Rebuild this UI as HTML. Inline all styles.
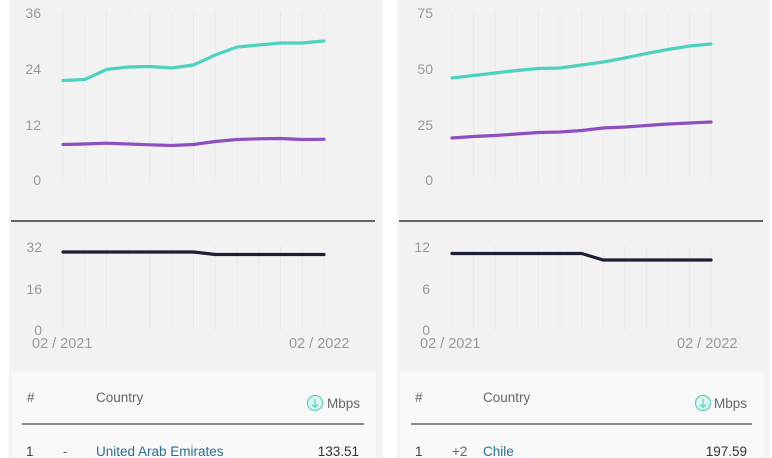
<!DOCTYPE html>
<html><head><meta charset="utf-8"><style>
html,body{margin:0;padding:0;background:#fff;width:772px;height:458px;overflow:hidden;font-family:"Liberation Sans",sans-serif}
svg{position:absolute;left:0;top:0}
</style></head><body>
<svg width="772" height="458" viewBox="0 0 772 458" xmlns="http://www.w3.org/2000/svg" font-family="Liberation Sans, sans-serif">
<rect x="9" y="0" width="374" height="458" fill="#f2f2f2"/>
<rect x="397" y="0" width="372" height="458" fill="#f2f2f2"/>
<rect x="12" y="372" width="364" height="86" fill="#f8f8f8"/>
<rect x="400" y="372" width="364" height="86" fill="#f8f8f8"/>
<line x1="11" y1="221" x2="375" y2="221" stroke="#111" stroke-width="1.3"/>
<line x1="399" y1="221" x2="763" y2="221" stroke="#111" stroke-width="1.3"/>
<g stroke="#e9e9e9" stroke-width="1">
<path d="M63 12V182M84.75 12V182M106.5 12V182M128.25 12V182M150 12V182M171.75 12V182M193.5 12V182M215.25 12V182M237 12V182M258.75 12V182M280.5 12V182M302.25 12V182M324 12V182"/>
<path d="M63 246V330M84.75 246V330M106.5 246V330M128.25 246V330M150 246V330M171.75 246V330M193.5 246V330M215.25 246V330M237 246V330M258.75 246V330M280.5 246V330M302.25 246V330M324 246V330"/>
<path d="M452 12V182M473.6 12V182M495.2 12V182M516.8 12V182M538.4 12V182M560 12V182M581.6 12V182M603.2 12V182M624.8 12V182M646.4 12V182M668 12V182M689.6 12V182M711 12V182"/>
<path d="M452 246V330M473.6 246V330M495.2 246V330M516.8 246V330M538.4 246V330M560 246V330M581.6 246V330M603.2 246V330M624.8 246V330M646.4 246V330M668 246V330M689.6 246V330M711 246V330"/>
</g>
<g fill="none" stroke-width="3.2" stroke-linejoin="round" stroke-linecap="round">
<polyline stroke="#4fd1c0" points="63,80.5 84.75,79.5 106.5,69.5 128.25,67 150,66.5 171.75,68 193.5,65 215.25,55 237,47 258.75,45 280.5,43 302.25,43 324,41"/>
<polyline stroke="#8e4fc0" points="63,144.5 84.75,144 106.5,143.2 128.25,144 150,144.8 171.75,145.5 193.5,144.5 215.25,141.5 237,139.5 258.75,138.8 280.5,138.5 302.25,139.5 324,139.3"/>
<polyline stroke="#1c1f33" points="63,252 193.5,252 215.25,254.5 324,254.5"/>
<polyline stroke="#4fd1c0" points="452,78 473.6,75.5 495.2,73 516.8,70.5 538.4,68.5 560,68 581.6,65 603.2,62 624.8,58 646.4,53.5 668,49.5 689.6,46 711,44"/>
<polyline stroke="#8e4fc0" points="452,138 473.6,136.5 495.2,135.5 516.8,134 538.4,132.5 560,132 581.6,130.5 603.2,128 624.8,127 646.4,125.5 668,124 689.6,123 711,122"/>
<polyline stroke="#1c1f33" points="452,253.5 581.6,253.5 603.2,260 711,260"/>
</g>
<g fill="#9a9a9a" font-size="14" text-anchor="end">
<text x="41" y="18">36</text><text x="41" y="74">24</text><text x="41" y="130">12</text><text x="41" y="185">0</text>
<text x="42" y="252">32</text><text x="42" y="294">16</text><text x="42" y="335">0</text>
<text x="433" y="18">75</text><text x="433" y="74">50</text><text x="433" y="130">25</text><text x="433" y="185">0</text>
<text x="430" y="252">12</text><text x="430" y="294">6</text><text x="430" y="335">0</text>
</g>
<g fill="#9a9a9a" font-size="14.5">
<text x="32" y="348">02 / 2021</text><text x="289" y="348">02 / 2022</text>
<text x="420" y="348">02 / 2021</text><text x="677" y="348">02 / 2022</text>
</g>
<g fill="#666" font-size="13.5">
<text x="27" y="402">#</text><text x="96" y="402">Country</text><text x="327" y="408">Mbps</text>
<text x="415" y="402">#</text><text x="483" y="402">Country</text><text x="714" y="408">Mbps</text>
</g>
<circle cx="315" cy="403" r="7.5" fill="#dff5f1" stroke="#5dd3c2" stroke-width="1.3"/>
<path d="M315 399V407M312 404.5L315 407.5L318 404.5" stroke="#5dd3c2" stroke-width="1.3" fill="none"/>
<circle cx="703" cy="403" r="7.5" fill="#dff5f1" stroke="#5dd3c2" stroke-width="1.3"/>
<path d="M703 399V407M700 404.5L703 407.5L706 404.5" stroke="#5dd3c2" stroke-width="1.3" fill="none"/>
<line x1="22" y1="424" x2="364" y2="424" stroke="#8a8a8a" stroke-width="2"/>
<line x1="411" y1="424" x2="752" y2="424" stroke="#8a8a8a" stroke-width="2"/>
<g font-size="13.5">
<text x="26" y="456" fill="#444">1</text><text x="63" y="456" fill="#666">-</text>
<text x="96" y="456" fill="#2a6f8c">United Arab Emirates</text>
<text x="359" y="456" fill="#333" text-anchor="end">133.51</text>
<text x="415" y="456" fill="#444">1</text><text x="452" y="456" fill="#666">+2</text>
<text x="483" y="456" fill="#2a6f8c">Chile</text>
<text x="747" y="456" fill="#333" text-anchor="end">197.59</text>
</g>
</svg>
</body></html>
